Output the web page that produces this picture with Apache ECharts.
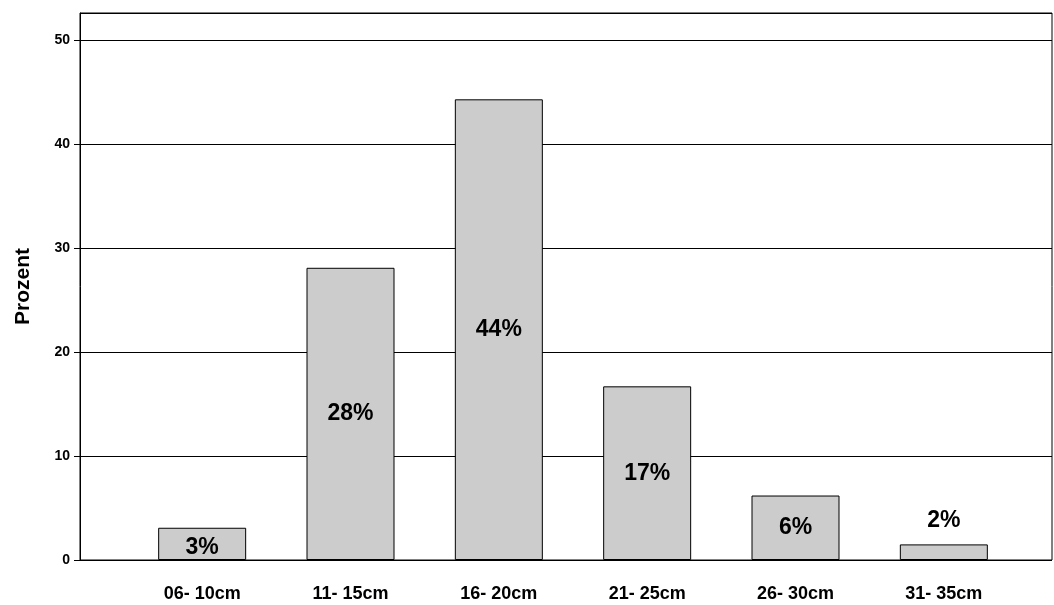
<!DOCTYPE html>
<html>
<head>
<meta charset="UTF-8">
<script src="https://cdn.jsdelivr.net/npm/echarts@6/dist/echarts.min.js"></script>
</head>
<body style="margin:0">
<div id="main" style="width:1054px;height:605px;"></div>
<script>
var categories = ['06- 10cm', '11- 15cm', '16- 20cm', '21- 25cm', '26- 30cm', '31- 35cm'];
var values = [3.1, 28.1, 44.3, 16.7, 6.2, 1.5];
var labels = ['3%', '28%', '44%', '17%', '6%', '2%'];

var font = 'Liberation Sans, Arial, sans-serif';
var chart = echarts.init(document.getElementById('main'));
var barData = values.map(function (v, i) {
    var d = {value: v, label: {formatter: labels[i]}};
    if (i === 0) d.label = {formatter: labels[i], position: 'insideBottom', distance: 1};
    if (i === 5) d.label = {formatter: labels[i], position: 'top', distance: 12};
    return d;
});
chart.setOption({
    animation: false,
    grid: [
        {left: 80, right: 2, top: 13, bottom: 45, show: true, borderColor: '#000', borderWidth: 1},
        {left: 128, right: 36, top: 13, bottom: 45}
    ],
    xAxis: [
        {gridIndex: 0, type: 'value', min: 0, max: 1, show: false},
        {gridIndex: 1, type: 'category', data: categories,
         axisLine: {show: false}, axisTick: {show: false},
         axisLabel: {color: '#000', fontWeight: 'bold', fontSize: 18, fontFamily: font, margin: 25}}
    ],
    yAxis: [
        {gridIndex: 0, type: 'value', min: 0, max: 52.6, interval: 10,
         name: 'Prozent', nameLocation: 'middle', nameGap: 46,
         nameTextStyle: {color: '#000', fontWeight: 'bold', fontSize: 21, fontFamily: font},
         axisLine: {show: true, lineStyle: {color: '#000'}},
         axisTick: {show: true, length: 6, lineStyle: {color: '#000'}},
         axisLabel: {color: '#000', fontWeight: 'bold', fontSize: 14, fontFamily: font, showMaxLabel: false, margin: 10},
         splitLine: {show: true, lineStyle: {color: '#000', width: 1}}},
        {gridIndex: 1, type: 'value', min: 0, max: 52.6, show: false}
    ],
    series: [{
        type: 'bar', xAxisIndex: 1, yAxisIndex: 1,
        barWidth: 88,
        data: barData,
        itemStyle: {color: '#cccccc', borderColor: '#000', borderWidth: 1},
        label: {show: true, position: 'inside', color: '#000', fontWeight: 'bold', fontSize: 23, fontFamily: font}
    }]
});
</script>
</body>
</html>
